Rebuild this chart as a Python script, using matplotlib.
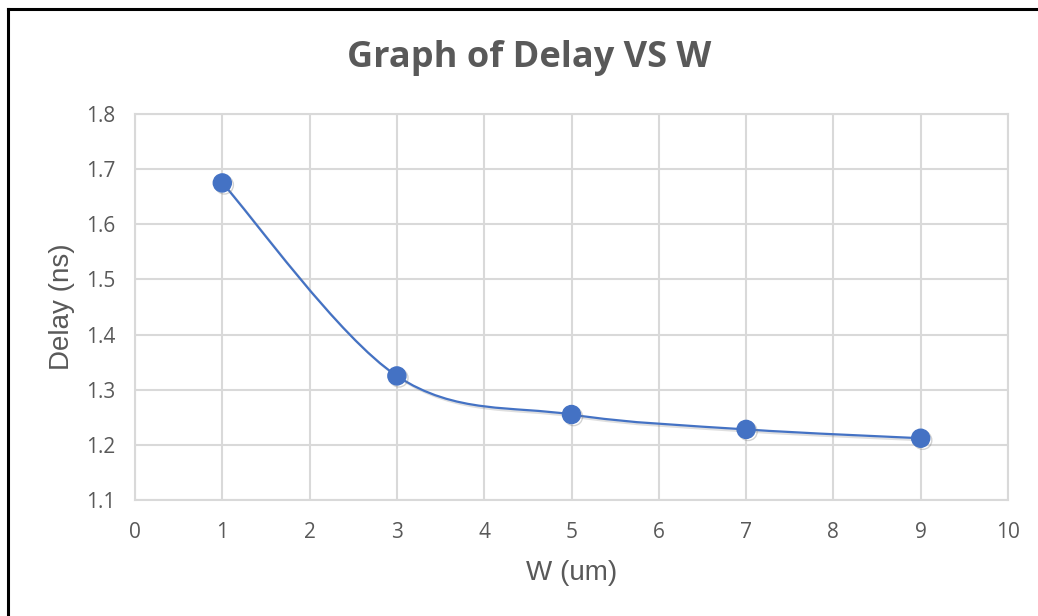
import matplotlib
matplotlib.use("Agg")
import matplotlib.pyplot as plt
import matplotlib.patheffects as pe
from matplotlib.path import Path
from matplotlib.patches import PathPatch
import numpy as np

# Data
w_um = [1, 3, 5, 7, 9]
delay_ns = [1.675, 1.325, 1.255, 1.228, 1.212]
x_ticks = [0, 1, 2, 3, 4, 5, 6, 7, 8, 9, 10]
y_ticks = [1.1, 1.2, 1.3, 1.4, 1.5, 1.6, 1.7, 1.8]
title = "Graph of Delay VS W"
x_label = "W (um)"
y_label = "Delay (ns)"

BLUE = "#4472C4"
GRID = "#D9D9D9"
TEXT = "#595959"

fig = plt.figure(figsize=(10.38, 6.16), dpi=100)
ax = fig.add_axes([135/1038, 1-500/616, (1008-135)/1038, (500-114)/616])

ax.set_xlim(0, 10)
ax.set_ylim(1.1, 1.8)
ax.set_xticks(x_ticks)
ax.set_yticks(y_ticks)
ax.set_xticklabels([str(t) for t in x_ticks])
ax.set_yticklabels([f"{t:.1f}" for t in y_ticks])
ax.grid(True, color=GRID, linewidth=1.5)
ax.set_axisbelow(True)
for s in ax.spines.values():
    s.set_color(GRID)
    s.set_linewidth(1.5)
ax.tick_params(axis="x", length=0, labelsize=15, labelcolor=TEXT, pad=16)
ax.tick_params(axis="y", length=0, labelsize=15, labelcolor=TEXT, pad=14)
for lab in ax.get_xticklabels() + ax.get_yticklabels():
    lab.set_family("Open Sans")

# Smooth line (Catmull-Rom style cubic Bezier, as Excel's smoothed line)
pts = np.column_stack([w_um, delay_ns]).astype(float)
verts = [tuple(pts[0])]
codes = [Path.MOVETO]
n = len(pts)
for i in range(n - 1):
    p0 = pts[i - 1] if i > 0 else pts[i]
    p1 = pts[i]
    p2 = pts[i + 1]
    p3 = pts[i + 2] if i + 2 < n else pts[i + 1]
    c1 = p1 + (p2 - p0) / 6.0
    c2 = p2 - (p3 - p1) / 6.0
    verts += [tuple(c1), tuple(c2), tuple(p2)]
    codes += [Path.CURVE4] * 3
patch = PathPatch(Path(verts, codes), facecolor="none", edgecolor=BLUE,
                  linewidth=1.6, zorder=3,
                  path_effects=[pe.SimpleLineShadow(offset=(1.5, -1.5), alpha=0.25, shadow_color="gray"),
                                pe.Normal()])
ax.add_patch(patch)

ax.plot(w_um, delay_ns, linestyle="none", marker="o", markersize=13,
        markerfacecolor=BLUE, markeredgecolor=BLUE, zorder=4,
        path_effects=[pe.SimpleLineShadow(offset=(1.5, -1.5), alpha=0.35, shadow_color="gray"),
                      pe.Normal()])

fig.text(62/1038, 1-307/616, y_label, rotation=90, ha="center", va="center",
         fontsize=20, color=TEXT, family="Liberation Sans")
fig.text(572/1038, 1-573/616, x_label, ha="center", va="center",
         fontsize=20, color=TEXT, family="Liberation Sans")

fig.text(529/1038, 1-58/616, title, ha="center", va="center", fontsize=26,
         fontweight="bold", color=TEXT, family="Open Sans")

# Outer border (cropped screenshot: left and top edges visible)
fig.add_artist(plt.Line2D([8/1038, 8/1038], [0, 1-9/616], transform=fig.transFigure,
                          color="black", linewidth=2.2))
fig.add_artist(plt.Line2D([8/1038, 1], [1-9/616, 1-9/616], transform=fig.transFigure,
                          color="black", linewidth=2.2))

fig.savefig("out.png", dpi=100)
